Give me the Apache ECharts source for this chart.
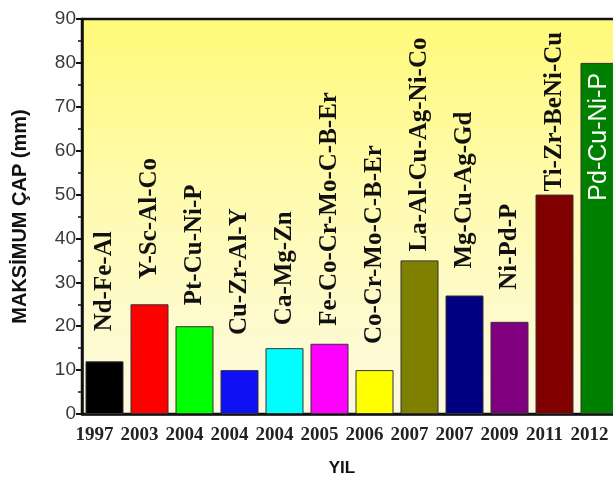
<!DOCTYPE html>
<html>
<head>
<meta charset="utf-8">
<script src="https://cdn.jsdelivr.net/npm/echarts@6/dist/echarts.min.js"></script>
<style>html,body{margin:0;padding:0;background:#fff;overflow:hidden;}#c{width:624px;height:482px;}</style>
</head>
<body>
<div id="c"></div>
<script>
// ---- data ----
var years = ['1997','2003','2004','2004','2004','2005','2006','2007','2007','2009','2011','2012'];
var alloys = ['Nd-Fe-Al','Y-Sc-Al-Co','Pt-Cu-Ni-P','Cu-Zr-Al-Y','Ca-Mg-Zn','Fe-Co-Cr-Mo-C-B-Er','Co-Cr-Mo-C-B-Er','La-Al-Cu-Ag-Ni-Co','Mg-Cu-Ag-Gd','Ni-Pd-P','Ti-Zr-BeNi-Cu','Pd-Cu-Ni-P'];
var diameters = [12, 25, 20, 10, 15, 16, 10, 35, 27, 21, 50, 80];
var yTicks = [0, 10, 20, 30, 40, 50, 60, 70, 80, 90];

// ---- styling (not data) ----
var barColors = ['#000000','#ff0000','#00ff00','#1010f5','#00ffff','#ff00ff','#ffff00','#808000','#000080','#800080','#800000','#008000'];
var labelGaps = [30, 25, 21, 35, 23, 18, 26, 9, 27, 32, 3, 10];

var seriesData = diameters.map(function (v, i) {
  var last = i === diameters.length - 1;
  return {
    value: v,
    itemStyle: { color: barColors[i] },
    label: last ? {
      position: 'insideTop', distance: labelGaps[i], rotate: 90, align: 'right', verticalAlign: 'middle',
      color: '#ffffff', fontFamily: 'Liberation Sans, Arial, sans-serif', fontWeight: 'normal', fontSize: 25
    } : {
      position: 'top', distance: labelGaps[i], rotate: 90, align: 'left', verticalAlign: 'middle'
    }
  };
});

var chart = echarts.init(document.getElementById('c'), null, { renderer: 'canvas' });
chart.setOption({
  animation: false,
  backgroundColor: '#ffffff',
  grid: {
    left: 82, top: 19, right: 2, height: 398,
    show: true,
    borderColor: '#111111', borderWidth: 2.5,
    backgroundColor: {
      type: 'linear', x: 0, y: 0, x2: 0, y2: 1,
      colorStops: [
        { offset: 0, color: '#fff978' },
        { offset: 0.45, color: '#fffbb0' },
        { offset: 1, color: '#fdf9e2' }
      ]
    }
  },
  xAxis: {
    type: 'category',
    data: years,
    name: 'YIL',
    nameLocation: 'middle',
    nameGap: 46,
    nameTextStyle: { fontFamily: 'Liberation Sans, Arial, sans-serif', fontWeight: 'bold', fontSize: 17, color: '#111', padding: [0, 20, 0, 0] },
    axisLine: { lineStyle: { color: '#111', width: 2.5 } },
    axisTick: { alignWithLabel: true, length: 8, lineStyle: { color: '#111', width: 2 } },
    axisLabel: { margin: 12, padding: [0, 20, 0, 0], fontFamily: 'Liberation Serif, Times New Roman, serif', fontWeight: 'bold', fontSize: 19, color: '#222', interval: 0 },
    splitLine: { show: false }
  },
  yAxis: {
    type: 'value',
    min: yTicks[0], max: yTicks[yTicks.length - 1], interval: 10,
    name: 'MAKSİMUM ÇAP (mm)',
    nameLocation: 'middle',
    nameRotate: 90,
    nameGap: 52,
    nameTextStyle: { fontFamily: 'Liberation Sans, Arial, sans-serif', fontWeight: 'bold', fontSize: 20, color: '#111' },
    axisLine: { show: true, lineStyle: { color: '#111', width: 2.5 } },
    axisTick: { show: true, length: 6, lineStyle: { color: '#111', width: 2 } },
    minorTick: { show: true, splitNumber: 2, length: 4, lineStyle: { color: '#111', width: 1.5 } },
    axisLabel: { margin: 6, fontFamily: 'Liberation Sans, Arial, sans-serif', fontSize: 19, color: '#3a3a3a' },
    splitLine: { show: false }
  },
  series: [{
    type: 'bar',
    data: seriesData,
    barWidth: 38,
    itemStyle: { borderColor: '#333333', borderWidth: 1 },
    label: {
      show: true,
      formatter: function (p) { return alloys[p.dataIndex]; },
      fontFamily: 'Liberation Serif, Times New Roman, serif',
      fontWeight: 'bold',
      fontSize: 25,
      color: '#111111'
    }
  }]
});
</script>
</body>
</html>
